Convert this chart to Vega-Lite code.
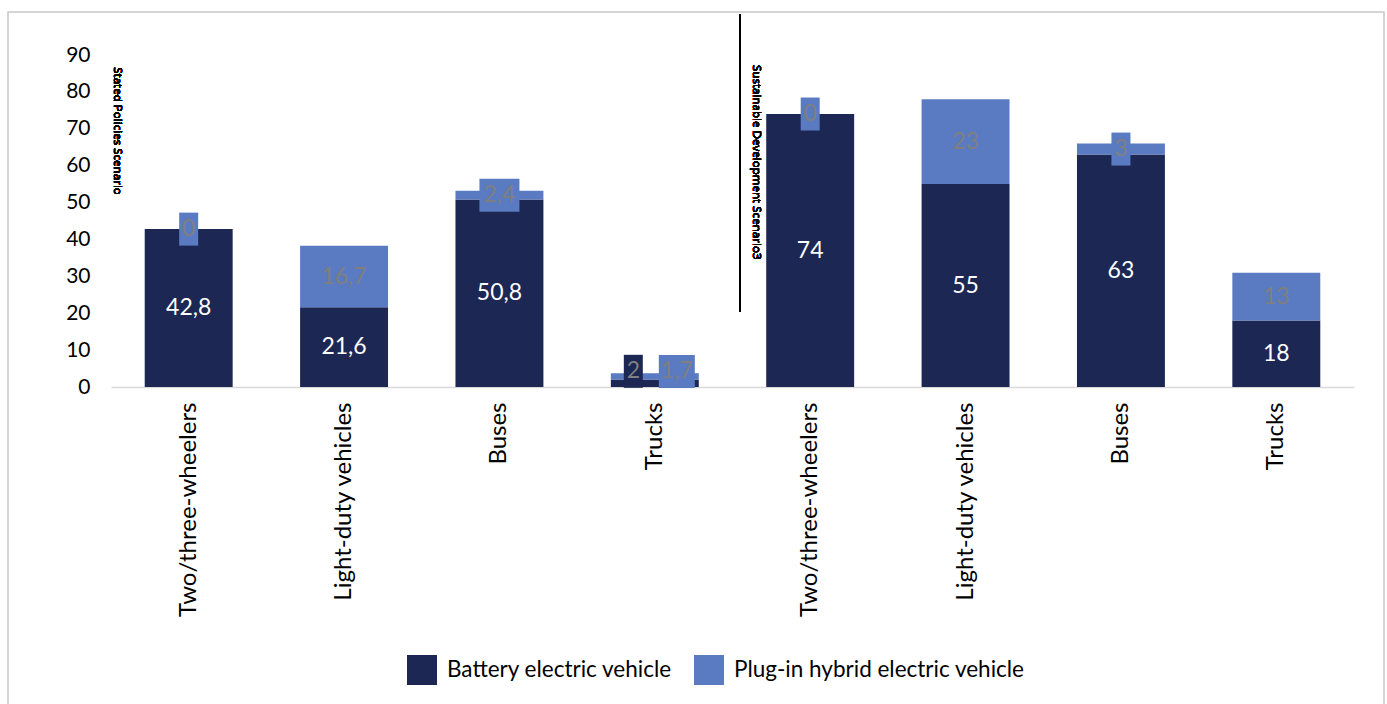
{
  "$schema": "https://vega.github.io/schema/vega-lite/v6.json",
  "width": 1376,
  "height": 700,
  "autosize": {"type": "none"},
  "padding": {"left": 8, "top": 12, "right": 3, "bottom": 0},
  "background": "white",
  "config": {"view": {"stroke": "#c8c8c8", "strokeWidth": 1.5}, "font": "Lato"},
  "data": {
    "values": [
      {"key": "SPS|Two/three-wheelers", "type": "Battery electric vehicle", "value": 42.8, "label": "42,8"},
      {"key": "SPS|Two/three-wheelers", "type": "Plug-in hybrid electric vehicle", "value": 0, "label": "0"},
      {"key": "SPS|Light-duty vehicles", "type": "Battery electric vehicle", "value": 21.6, "label": "21,6"},
      {"key": "SPS|Light-duty vehicles", "type": "Plug-in hybrid electric vehicle", "value": 16.7, "label": "16,7"},
      {"key": "SPS|Buses", "type": "Battery electric vehicle", "value": 50.8, "label": "50,8"},
      {"key": "SPS|Buses", "type": "Plug-in hybrid electric vehicle", "value": 2.4, "label": "2,4"},
      {"key": "SPS|Trucks", "type": "Battery electric vehicle", "value": 2, "label": "2"},
      {"key": "SPS|Trucks", "type": "Plug-in hybrid electric vehicle", "value": 1.7, "label": "1,7"},
      {"key": "SDS|Two/three-wheelers", "type": "Battery electric vehicle", "value": 74, "label": "74"},
      {"key": "SDS|Two/three-wheelers", "type": "Plug-in hybrid electric vehicle", "value": 0, "label": "0"},
      {"key": "SDS|Light-duty vehicles", "type": "Battery electric vehicle", "value": 55, "label": "55"},
      {"key": "SDS|Light-duty vehicles", "type": "Plug-in hybrid electric vehicle", "value": 23, "label": "23"},
      {"key": "SDS|Buses", "type": "Battery electric vehicle", "value": 63, "label": "63"},
      {"key": "SDS|Buses", "type": "Plug-in hybrid electric vehicle", "value": 3, "label": "3"},
      {"key": "SDS|Trucks", "type": "Battery electric vehicle", "value": 18, "label": "18"},
      {"key": "SDS|Trucks", "type": "Plug-in hybrid electric vehicle", "value": 13, "label": "13"}
    ]
  },
  "encoding": {
    "x": {
      "field": "key",
      "type": "nominal",
      "sort": ["SPS|Two/three-wheelers", "SPS|Light-duty vehicles", "SPS|Buses", "SPS|Trucks", "SDS|Two/three-wheelers", "SDS|Light-duty vehicles", "SDS|Buses", "SDS|Trucks"],
      "scale": {"range": [103, 1346], "paddingInner": 0.434, "paddingOuter": 0.217},
      "axis": {
        "title": null,
        "labelAngle": -90,
        "labelFontSize": 24,
        "labelColor": "#000000",
        "ticks": false,
        "domain": true,
        "domainColor": "#d9d9d9",
        "domainWidth": 1.5,
        "offset": -325,
        "labelPadding": 15,
        "labelLimit": 0,
        "labelExpr": "split(datum.label, '|')[1]"
      }
    }
  },
  "layer": [
    {
      "mark": {"type": "bar"},
      "encoding": {
        "y": {
          "field": "value",
          "type": "quantitative",
          "stack": "zero",
          "scale": {"domain": [0, 90], "range": [375, 43], "nice": false},
          "axis": {
            "title": null,
            "values": [0, 10, 20, 30, 40, 50, 60, 70, 80, 90],
            "grid": false,
            "domain": false,
            "ticks": false,
            "labelFontSize": 21,
            "labelColor": "#000000",
            "offset": -82,
            "labelPadding": 0
          }
        },
        "order": {"field": "type", "sort": "ascending"},
        "color": {
          "field": "type",
          "type": "nominal",
          "scale": {"domain": ["Battery electric vehicle", "Plug-in hybrid electric vehicle"], "range": ["#1c2754", "#5a7bc1"]},
          "legend": {
            "orient": "none",
            "legendX": 399,
            "legendY": 643,
            "direction": "horizontal",
            "title": null,
            "symbolType": "square",
            "symbolSize": 900,
            "symbolStrokeWidth": 0,
            "symbolOpacity": 1,
            "labelFontSize": 22.5,
            "labelLimit": 500,
            "labelColor": "#000000",
            "labelOffset": 10,
            "columnPadding": 21,
            "padding": 0
          }
        }
      }
    },
    {
      "mark": {"type": "rule", "color": "#000000", "strokeWidth": 1.2, "xOffset": -26},
      "encoding": {
        "x": {"datum": "SDS|Two/three-wheelers", "bandPosition": 0},
        "y": {"datum": 20.3, "type": "quantitative"},
        "y2": {"datum": 101}
      }
    },
    {
      "mark": {"type": "text", "angle": 90, "align": "left", "baseline": "middle", "fontSize": 11.6, "font": "Open Sans", "fontWeight": "normal", "color": "#000000", "xOffset": -27.7},
      "encoding": {
        "x": {"datum": "SPS|Two/three-wheelers", "bandPosition": 0},
        "y": {"datum": 86.7, "type": "quantitative"},
        "text": {"value": "Stated Policies Scenario"}
      }
    },
    {
      "mark": {"type": "text", "angle": 90, "align": "left", "baseline": "middle", "fontSize": 11.6, "font": "Open Sans", "fontWeight": "normal", "color": "#000000", "xOffset": -10},
      "encoding": {
        "x": {"datum": "SDS|Two/three-wheelers", "bandPosition": 0},
        "y": {"datum": 87.3, "type": "quantitative"},
        "text": {"value": "Sustainable Development Scenario3"}
      }
    },
    {
      "transform": [
        {"stack": "value", "groupby": ["key"], "sort": [{"field": "type", "order": "ascending"}], "as": ["v0", "v1"]},
        {"calculate": "(datum.v0 + datum.v1) / 2", "as": "mid"},
        {"calculate": "length(datum.label)", "as": "len"},
        {"filter": "datum.key !== 'SPS|Trucks'"}
      ],
      "layer": [
        {
          "mark": {"type": "tick", "thickness": 33, "opacity": 1},
          "encoding": {
            "y": {"field": "mid", "type": "quantitative"},
            "size": {"field": "len", "type": "quantitative", "scale": {"domain": [1, 3], "range": [19, 40]}, "legend": null},
            "color": {"field": "type", "type": "nominal"}
          }
        },
        {
          "mark": {"type": "text", "fontSize": 23, "baseline": "middle", "align": "center"},
          "encoding": {
            "y": {"field": "mid", "type": "quantitative"},
            "text": {"field": "label"},
            "color": {"condition": {"test": "datum.type === 'Battery electric vehicle'", "value": "#ffffff"}, "value": "#7f7f7f"}
          }
        }
      ]
    },
    {
      "transform": [
        {"stack": "value", "groupby": ["key"], "sort": [{"field": "type", "order": "ascending"}], "as": ["v0", "v1"]},
        {"calculate": "(datum.v0 + datum.v1) / 2", "as": "mid"},
        {"filter": "datum.key === 'SPS|Trucks' && datum.type === 'Battery electric vehicle'"}
      ],
      "layer": [
        {
          "mark": {"type": "tick", "thickness": 33, "size": 19, "opacity": 1, "color": "#1c2754", "xOffset": -21.5, "yOffset": -12},
          "encoding": {"y": {"field": "mid", "type": "quantitative"}}
        },
        {
          "mark": {"type": "text", "fontSize": 23, "baseline": "middle", "align": "center", "color": "#7f7f7f", "xOffset": -21.5, "yOffset": -12},
          "encoding": {"y": {"field": "mid", "type": "quantitative"}, "text": {"field": "label"}}
        }
      ]
    },
    {
      "transform": [
        {"stack": "value", "groupby": ["key"], "sort": [{"field": "type", "order": "ascending"}], "as": ["v0", "v1"]},
        {"calculate": "(datum.v0 + datum.v1) / 2", "as": "mid"},
        {"filter": "datum.key === 'SPS|Trucks' && datum.type === 'Plug-in hybrid electric vehicle'"}
      ],
      "layer": [
        {
          "mark": {"type": "tick", "thickness": 33, "size": 36, "opacity": 1, "color": "#5a7bc1", "xOffset": 22, "yOffset": -5},
          "encoding": {"y": {"field": "mid", "type": "quantitative"}}
        },
        {
          "mark": {"type": "text", "fontSize": 23, "baseline": "middle", "align": "center", "color": "#7f7f7f", "xOffset": 22, "yOffset": -5},
          "encoding": {"y": {"field": "mid", "type": "quantitative"}, "text": {"field": "label"}}
        }
      ]
    }
  ]
}
